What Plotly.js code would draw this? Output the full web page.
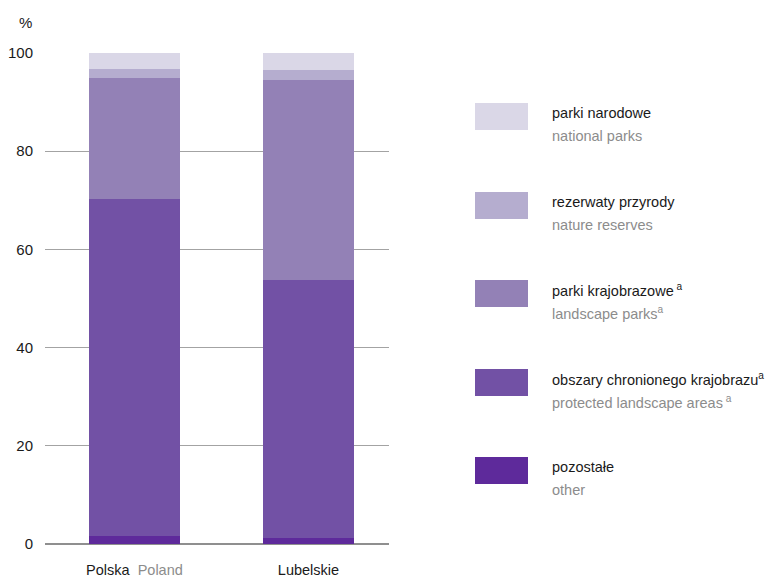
<!DOCTYPE html>
<html>
<head>
<meta charset="utf-8">
<script src="https://cdn.plot.ly/plotly-3.0.1.min.js"></script>
<style>
html,body{margin:0;padding:0;background:#fff;}
#chart{width:765px;height:579px;}
</style>
</head>
<body>
<div id="chart"></div>
<script>
var categories = ["Polska", "Lubelskie"];
var tickLabels = ["Polska  <span style='color:#8c8c8c'>Poland</span>", "Lubelskie"];
var yTicks = [0, 20, 40, 60, 80, 100];

var seriesNamesPL = ["pozostałe", "obszary chronionego krajobrazu<sup>a</sup>", "parki krajobrazowe<sup> a</sup>", "rezerwaty przyrody", "parki narodowe"];
var seriesNamesEN = ["other", "protected landscape areas<sup> a</sup>", "landscape parks<sup>a</sup>", "nature reserves", "national parks"];

var other = [1.6, 1.2];
var protectedLandscape = [68.7, 52.6];
var landscapeParks = [24.6, 40.7];
var natureReserves = [1.8, 2.0];
var nationalParks = [3.3, 3.5];

var colors = ["#5e2a9b", "#7251a5", "#9381b6", "#b5adcf", "#dad7e7"];
var seriesValues = [other, protectedLandscape, landscapeParks, natureReserves, nationalParks];

var FONT = "'Liberation Sans', Arial, sans-serif";
var FS = 14.5;

var traces = seriesValues.map(function (vals, i) {
  return {
    type: "bar",
    x: categories,
    y: vals,
    name: seriesNamesPL[i],
    marker: {color: colors[i], line: {width: 0}},
    width: 0.523,
    hoverinfo: "y+name",
    showlegend: false
  };
});

// pixel helpers for legend placement
var ML = 45, MR = 376, MT = 53, MB = 35, W = 765, H = 579;
var PW = W - ML - MR, PH = H - MT - MB;
function px(x) { return (x - ML) / PW; }
function py(y) { return (H - MB - y) / PH; }

var shapes = [];
var annotations = [];
var swatchTops = [457, 369, 280, 192, 103];
for (var i = 0; i < seriesValues.length; i++) {
  var T = swatchTops[i];
  shapes.push({
    type: "rect", xref: "paper", yref: "paper",
    x0: px(475), x1: px(528), y0: py(T + 27), y1: py(T),
    fillcolor: colors[i], line: {width: 0}
  });
  annotations.push({
    xref: "paper", yref: "paper", x: px(550), y: py(T + 10),
    xanchor: "left", yanchor: "middle", showarrow: false,
    text: seriesNamesPL[i], font: {family: FONT, size: FS, color: "#1a1a1a"}
  });
  annotations.push({
    xref: "paper", yref: "paper", x: px(550), y: py(T + 33),
    xanchor: "left", yanchor: "middle", showarrow: false,
    text: seriesNamesEN[i], font: {family: FONT, size: FS, color: "#8c8c8c"}
  });
}
annotations.push({
  xref: "paper", yref: "paper", x: px(34), y: py(22),
  xanchor: "right", yanchor: "middle", showarrow: false,
  text: "%", font: {family: FONT, size: 15, color: "#1a1a1a"}
});

var layout = {
  width: W, height: H,
  margin: {l: ML, r: MR, t: MT, b: MB, pad: 0},
  paper_bgcolor: "#ffffff", plot_bgcolor: "#ffffff",
  barmode: "stack",
  bargap: 0,
  font: {family: FONT, size: FS, color: "#1a1a1a"},
  xaxis: {
    type: "category",
    range: [-0.514, 1.463],
    tickvals: categories, ticktext: tickLabels,
    showgrid: false, zeroline: false, showline: false,
    ticks: "", ticklabelstandoff: 15,
    tickfont: {family: FONT, size: FS, color: "#1a1a1a"},
    fixedrange: true
  },
  yaxis: {
    range: [0, 100],
    tickvals: yTicks,
    showgrid: true, gridcolor: "#a3a3a3", gridwidth: 1.3,
    zeroline: true, zerolinecolor: "#8f8f8f", zerolinewidth: 1.5,
    showline: false, ticks: "", ticklabelstandoff: 11,
    tickfont: {family: FONT, size: 15, color: "#1a1a1a"},
    fixedrange: true
  },
  shapes: shapes,
  annotations: annotations
};

Plotly.newPlot("chart", traces, layout, {displayModeBar: false, staticPlot: true});
</script>
</body>
</html>
